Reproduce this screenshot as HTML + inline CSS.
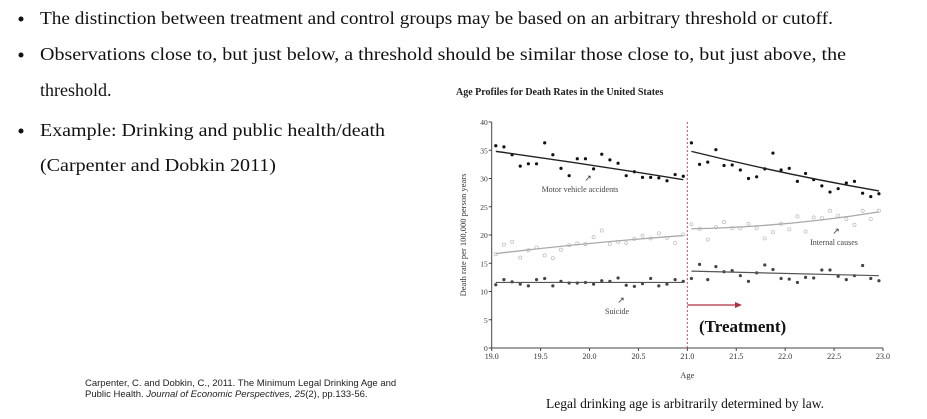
<!DOCTYPE html>
<html><head><meta charset="utf-8"><style>
html,body{margin:0;padding:0;background:#fff;}
svg{display:block;}
.s{font-family:"Liberation Serif",serif;}
.a{font-family:"Liberation Sans",sans-serif;}
</style></head><body>
<svg id="page" width="927" height="419" viewBox="0 0 927 419">
<g class="s" font-size="18" fill="#111">
<circle cx="21" cy="19" r="2.5"/>
<text x="40" y="24" textLength="793" lengthAdjust="spacingAndGlyphs">The distinction between treatment and control groups may be based on an arbitrary threshold or cutoff.</text>
<circle cx="21" cy="55" r="2.5"/>
<text x="40" y="60" textLength="806" lengthAdjust="spacingAndGlyphs">Observations close to, but just below, a threshold should be similar those close to, but just above, the</text>
<text x="40" y="96">threshold.</text>
<circle cx="21" cy="131" r="2.5"/>
<text x="40" y="136" textLength="345" lengthAdjust="spacingAndGlyphs">Example: Drinking and public health/death</text>
<text x="40" y="171" textLength="236" lengthAdjust="spacingAndGlyphs">(Carpenter and Dobkin 2011)</text>
</g>
<g class="a" font-size="9.5" fill="#222">
<text x="85" y="386">Carpenter, C. and Dobkin, C., 2011. The Minimum Legal Drinking Age and</text>
<text x="85" y="397">Public Health. <tspan font-style="italic">Journal of Economic Perspectives, 25</tspan>(2), pp.133-56.</text>
</g>
<text class="s" x="546" y="408" font-size="13.5" fill="#111">Legal drinking age is arbitrarily determined by law.</text>
<text class="s" x="456" y="95" font-size="10" font-weight="bold" fill="#222">Age Profiles for Death Rates in the United States</text>
<g id="chart"></g>
</svg>
<script>
const xTicks=[19.0,19.5,20.0,20.5,21.0,21.5,22.0,22.5,23.0];
const yTicks=[0,5,10,15,20,25,30,35,40];
const mvaLeft=[35.8,35.6,34.2,32.2,32.6,32.6,36.3,34.2,31.8,30.5,33.5,33.5,31.7,34.3,33.3,32.7,30.5,31.2,30.2,30.2,30.1,29.6,30.7,30.4];
const mvaRight=[36.3,32.5,32.9,35.1,32.3,32.4,31.5,30.0,30.3,31.7,34.5,31.5,31.8,29.5,30.9,29.8,28.7,27.6,28.2,29.2,29.5,27.4,26.8,27.3];
const intLeft=[16.6,18.3,18.8,16.0,17.3,17.8,16.4,15.9,17.4,18.2,18.5,18.4,19.6,20.8,18.4,18.8,18.6,19.3,19.9,19.4,20.3,19.5,18.6,20.1];
const intRight=[21.9,21.1,19.2,21.4,22.3,21.2,21.2,22.0,21.2,19.4,20.5,22.0,21.0,23.3,20.6,23.1,23.0,24.3,23.4,22.8,21.8,24.3,22.8,24.3];
const suiLeft=[11.2,12.1,11.7,11.3,11.0,12.1,12.3,11.0,11.8,11.5,11.5,11.6,11.3,11.9,11.8,12.4,11.1,10.9,11.4,12.3,11.0,11.3,12.1,11.8];
const suiRight=[12.3,14.8,12.1,14.4,13.5,13.7,12.8,11.8,13.3,14.7,13.9,12.3,12.2,11.6,12.5,12.4,13.8,13.8,12.7,12.1,12.8,14.6,12.3,11.9];
// fitted curves: values at start, middle, end of each side
const mvaFitL=[34.8,32.4,29.8], mvaFitR=[34.8,31.0,27.8];
const intFitL=[16.7,18.5,19.9], intFitR=[21.1,22.0,24.1];
const suiFitL=[11.6,11.6,11.6], suiFitR=[13.6,13.2,12.8];
const cutoff=21.0;

const NS="http://www.w3.org/2000/svg";
const g=document.getElementById('chart');
const X=v=>491.7+(v-19)*(883-491.7)/4;
const Y=v=>348-v*(348-122)/40;
function mk(t,a,p){const e=document.createElementNS(NS,t);for(const k in a)e.setAttribute(k,a[k]);(p||g).appendChild(e);return e;}

// axes
let ax=mk('line',{x1:X(19),y1:Y(0),x2:X(23),y2:Y(0),stroke:'#444','stroke-width':1});


let ay=mk('line',{x1:X(19),y1:Y(0),x2:X(19),y2:Y(40),stroke:'#444','stroke-width':1});


xTicks.forEach(v=>{
 mk('line',{x1:X(v),y1:Y(0),x2:X(v),y2:Y(0)+3,stroke:'#444'});
 const t=mk('text',{x:X(v),y:Y(0)+11,'font-size':8,'text-anchor':'middle',fill:'#333','font-family':'Liberation Serif,serif'});
 t.textContent=v.toFixed(1);
 
 
});
yTicks.forEach(v=>{
 mk('line',{x1:X(19)-3,y1:Y(v),x2:X(19),y2:Y(v),stroke:'#444'});
 const t=mk('text',{x:X(19)-4,y:Y(v)+3,'font-size':7.5,'text-anchor':'end',fill:'#333','font-family':'Liberation Serif,serif'});
 t.textContent=v;
 
 
});
let xt=mk('text',{x:X(21),y:378,'font-size':8.5,'text-anchor':'middle',fill:'#333','font-family':'Liberation Serif,serif'});
xt.textContent='Age';


let yt=mk('text',{x:0,y:0,'font-size':8.5,'text-anchor':'middle',fill:'#333','font-family':'Liberation Serif,serif',transform:`translate(466,${Y(20)}) rotate(-90)`});
yt.textContent='Death rate per 100,000 person years';



// cutoff line
let cl=mk('line',{x1:X(cutoff),y1:Y(40),x2:X(cutoff),y2:Y(0),stroke:'#c05060','stroke-width':1,'stroke-dasharray':'2,2'});



function pts(arr,side,fill,stroke,name){
 arr.forEach((v,i)=>{
  const age=side===0?19+(i+0.5)/12:21+(i+0.5)/12;
  const c=mk('circle',{cx:X(age),cy:Y(v),r:1.6,fill:fill,stroke:stroke,'stroke-width':0.7});
  
  
 });
}
function fit(arr,side,color,w,name){
 const a0=side===0?19:21;
 const d=`M${X(a0+1/24)},${Y(arr[0])} Q${X(a0+1)},${2*Y(arr[1])-(Y(arr[0])+Y(arr[2]))/2} ${X(a0+2-1/24)},${Y(arr[2])}`;
 const p=mk('path',{d:d,fill:'none',stroke:color,'stroke-width':w});
 
 
}
pts(mvaLeft,0,'#111','none','motor-vehicle');pts(mvaRight,1,'#111','none','motor-vehicle');
pts(intLeft,0,'#fff','#bbb','internal-causes');pts(intRight,1,'#fff','#bbb','internal-causes');
pts(suiLeft,0,'#444','none','suicide');pts(suiRight,1,'#444','none','suicide');
fit(mvaFitL,0,'#222',1.4,'motor-vehicle');fit(mvaFitR,1,'#222',1.4,'motor-vehicle');
fit(intFitL,0,'#aaa',1.3,'internal-causes');fit(intFitR,1,'#aaa',1.3,'internal-causes');
fit(suiFitL,0,'#555',1.2,'suicide');fit(suiFitR,1,'#555',1.2,'suicide');

function lbl(txt,x,y,name,ax2,ay2){
 const t=mk('text',{x:x,y:y,'font-size':8,'text-anchor':'middle',fill:'#444','font-family':'Liberation Serif,serif'});
 t.textContent=txt;
 
 
 mk('text',{x:ax2,y:ay2,'font-size':9,'text-anchor':'middle',fill:'#333','font-family':'DejaVu Sans,sans-serif'}).textContent='↗';
}
lbl('Motor vehicle accidents',580,192,'motor-vehicle-label',588,181);
lbl('Internal causes',834,245,'internal-causes-label',836,234);
lbl('Suicide',617,314,'suicide-label',621,303);

let ar=mk('line',{x1:X(21),y1:305,x2:737,y2:305,stroke:'#b03040','stroke-width':1.2});


mk('polygon',{points:'742,305 735,302 735,308',fill:'#b03040'});
let tr=mk('text',{x:699,y:332,'font-size':17,'font-weight':'bold',fill:'#111','font-family':'Liberation Serif,serif'});
tr.textContent='(Treatment)';


</script>
</body></html>
